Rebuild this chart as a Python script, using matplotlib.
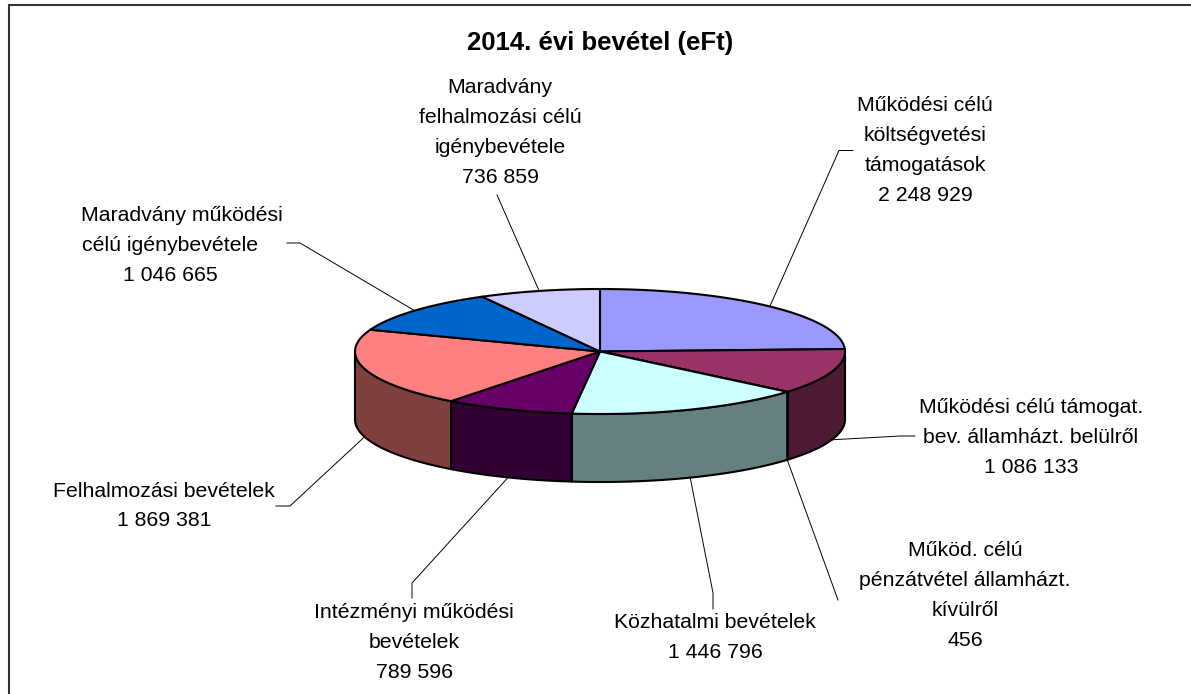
import numpy as np
import matplotlib
matplotlib.use("Agg")
import matplotlib.pyplot as plt
from matplotlib.patches import Polygon

plt.rcParams['font.family'] = ['Liberation Sans', 'DejaVu Sans']

title = "2014. évi bevétel (eFt)"

names = ["Működési célú\nköltségvetési\ntámogatások",
         "Működési célú támogat.\nbev. államházt. belülről",
         "Működ. célú\npénzátvétel államházt.\nkívülről",
         "Közhatalmi bevételek",
         "Intézményi működési\nbevételek",
         "Felhalmozási bevételek",
         "Maradvány működési\ncélú igénybevétele",
         "Maradvány\nfelhalmozási célú\nigénybevétele"]
values = [2248929, 1086133, 456, 1446796, 789596, 1869381, 1046665, 736859]
top_colors = ["#9999FF", "#993366", "#FFFFCC", "#CCFFFF", "#660066", "#FF8080", "#0066CC", "#CCCCFF"]
side_colors = ["#4D4D80", "#4D1A33", "#808066", "#668080", "#330033", "#804040", "#003366", "#666680"]

# label centres in pixels
label_x = [925, 1031, 965, 715, 414, 164, 170, 500]
label_y = [148, 435, 593, 636, 640, 504, 243, 130]
# first line of this label sits off centre in the original
line_shift = {6: [11.5, 0, 0]}
# leader line points after the slice anchor
leaders = [[(839, 150.5), (853, 150.5)],
           [(900, 436), (915, 436)],
           [(838, 600)],
           [(713, 593), (713, 609)],
           [(412, 583), (412, 598)],
           [(290, 506), (276, 506)],
           [(300, 243), (287, 243)],
           [(497, 195)]]

cx, cy = 600, 351.5
rx, ry = 245, 62.5
depth = 68
LW = 1.5
LINE_H = 30


def fmt(v):
    return f"{v:,}".replace(",", " ")


def arc(a0, a1, drop=0):
    t = np.radians(np.linspace(a0, a1, max(int(abs(a1 - a0) * 2), 2)))
    return np.column_stack([cx + rx * np.sin(t), cy - ry * np.cos(t) + drop])


fig = plt.figure(figsize=(11.91, 6.94), dpi=100)
ax = fig.add_axes([0, 0, 1, 1])
ax.set_xlim(0, 1191)
ax.set_ylim(694, 0)
ax.axis("off")

# chart border, cropped on the right and bottom
ax.plot([9, 9, 1191], [694, 4.5, 4.5], color="#333333", lw=1.5, solid_joinstyle="miter")

ends = np.cumsum(values) / sum(values) * 360
starts = np.concatenate([[0], ends[:-1]])

# side walls, front half only
for a0, a1, col in zip(starts, ends, side_colors):
    lo, hi = max(a0, 90), min(a1, 270)
    if hi <= lo:
        continue
    pts = np.vstack([arc(lo, hi), arc(hi, lo, depth)])
    ax.add_patch(Polygon(pts, closed=True, fc=col, ec="black", lw=LW, joinstyle="round"))

# top face
for a0, a1, col in zip(starts, ends, top_colors):
    pts = np.vstack([[cx, cy], arc(a0, a1)])
    ax.add_patch(Polygon(pts, closed=True, fc=col, ec="black", lw=LW, joinstyle="round"))

# leader lines and labels
for i, (a0, a1, name, v) in enumerate(zip(starts, ends, names, values)):
    mid = (a0 + a1) / 2
    x = cx + rx * np.sin(np.radians(mid))
    y = cy - ry * np.cos(np.radians(mid))
    if 90 < mid < 270:
        y += depth
    xs = [x] + [p[0] for p in leaders[i]]
    ys = [y] + [p[1] for p in leaders[i]]
    ax.plot(xs, ys, color="black", lw=0.7, zorder=1)

    lines = name.split("\n") + [fmt(v)]
    shift = line_shift.get(i, [0] * len(lines))
    for j, line in enumerate(lines):
        ly = label_y[i] + (j - (len(lines) - 1) / 2) * LINE_H + 7.5
        ax.text(label_x[i] + shift[j], ly, line, ha="center", va="baseline", fontsize=15.3, color="black")

ax.text(600, 43, title, ha="center", va="center", fontsize=18.5, fontweight="bold", color="black")

fig.savefig("out.png", dpi=100)
